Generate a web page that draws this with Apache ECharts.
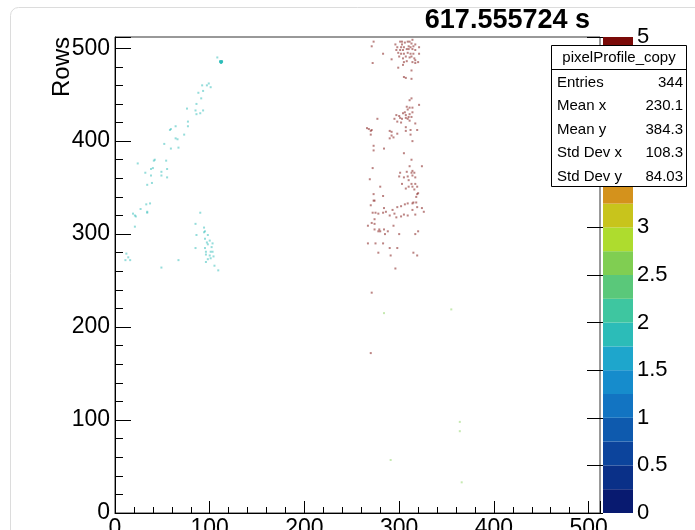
<!DOCTYPE html>
<html>
<head>
<meta charset="utf-8">
<script src="https://cdn.jsdelivr.net/npm/echarts@6/dist/echarts.min.js"></script>
<style>
  html, body { margin: 0; padding: 0; background: #fff; }
  #chart { width: 695px; height: 530px; }
</style>
</head>
<body>
<div id="chart"></div>
<script>
// pixel hits as [column, row]
const cyanPixels = [
  [108,490],[92,460],[97,460],[99,462],[101,458],[93,454],[88,452],[91,446],[86,440],[76,435],
  [85,433],[93,433],[86,429],[90,430],[77,421],[77,416],[64,416],[59,413],[58,412],[73,407],
  [64,403],[66,402],[52,397],[59,392],[67,393],[42,380],[41,379],[54,379],[24,376],[40,371],
  [38,370],[55,370],[32,366],[49,367],[38,363],[49,363],[55,361],[39,355],[34,353],[37,333],
  [33,332],[27,327],[34,324],[34,323],[19,322],[21,320],[22,319],[21,308],[90,323],[85,311],
  [94,307],[95,303],[94,302],[86,299],[98,299],[95,295],[100,293],[97,291],[103,290],[98,289],
  [102,286],[85,285],[95,285],[96,281],[101,281],[103,281],[96,278],[100,277],[104,276],[98,273],
  [101,274],[96,270],[105,266],[109,261],[67,272],[49,264],[12,279],[14,275],[11,272],[16,272]
]
const hotPixels = [[111,485],[112,485],[113,485],[112,486],[112,484],[111,486],[113,486]]
const redPixels = [
  [273,507],[271,502],[296,504],[301,507],[303,507],[303,504],[306,506],[309,507],[311,507],[314,509],
  [313,505],[315,502],[317,504],[321,501],[298,501],[302,501],[305,501],[310,502],[312,501],[297,498],
  [301,498],[304,498],[308,499],[310,499],[314,499],[317,498],[299,495],[302,494],[305,494],[309,495],
  [312,494],[315,494],[321,494],[283,494],[300,491],[304,489],[307,491],[311,490],[313,491],[316,489],
  [317,487],[320,485],[292,488],[305,485],[308,486],[314,485],[317,484],[272,484],[304,482],[313,476],
  [299,479],[305,469],[307,468],[313,467],
  [313,446],[311,444],[321,439],[308,437],[311,436],[314,436],[309,434],[306,431],[304,430],[314,431],
  [311,429],[307,428],[297,428],[300,427],[313,426],[310,426],[301,425],[303,424],[307,425],[295,424],
  [309,424],[311,422],[298,421],[302,420],[317,419],[277,424],[266,414],[268,413],[271,412],[270,411],
  [307,415],[319,412],[312,412],[307,411],[290,411],[292,410],[298,408],[292,406],[294,404],[290,403],
  [270,407],[312,407],[314,400],[273,395],[284,392],[273,390],[305,387],
  [313,380],[311,373],[324,373],[272,371],[314,368],[308,367],[313,366],[316,366],[301,366],[300,362],
  [314,363],[305,361],[309,362],[317,361],[269,359],[310,358],[303,354],[313,354],[317,354],[280,351],
  [310,351],[314,351],[319,351],[307,349],[316,348],[320,344],[319,343],[273,343],[318,340],[283,341],
  [273,336],[274,336],[315,334],[318,334],[314,333],[270,331],[309,333],[306,332],[302,330],[298,329],
  [319,329],[324,328],[326,324],[314,326],[293,326],[284,328],[272,323],[275,323],[278,322],[283,323],
  [286,324],[290,320],[295,322],[302,319],[305,321],[309,320],[317,321],[297,318],[274,316],[271,312],
  [274,311],[267,309],[294,309],[274,305],[279,305],[280,303],[284,305],[285,300],[288,303],[278,303],
  [320,303],[317,300],[300,300],[267,290],[275,290],[283,290],[290,285],[298,285],[278,280],[291,277],
  [315,280],[319,277],[296,263],[271,237],[270,172]
]
const greenPixels = [[284,215],[355,219],[364,98],[364,88],[291,57],[366,33]]

// bin contents per group
const cyanLevel = 1.9
const hotLevel = 1.8
const redLevel = 4.9
const greenLevel = 2.6

// colour scale
const bandEdges = [0,0.25,0.5,0.75,1,1.25,1.5,1.75,2,2.25,2.5,2.75,3,3.25,3.5,3.75,4,4.25,4.5,4.75,5]
const paletteColors = [
  '#081a70','#0a3088','#0c449c','#0e5aae','#1274c2','#168ccc','#1ea6cc','#2cbcb8','#3ec6a0','#5ac87a',
  '#80ce52','#aedc2e','#c8c41c','#d4921c','#d8741a','#dc5416','#d23612','#b8200e','#98120a','#7a0a08'
]

const titleText = '617.555724 s'
const yTitle = 'Rows'
const statsName = 'pixelProfile_copy'
const statLabels = ['Entries', 'Mean x', 'Mean y', 'Std Dev x', 'Std Dev y']
const statValues = ['344', '230.1', '384.3', '108.3', '84.03']

const FONT = '"Liberation Sans", Arial, sans-serif'
const chart = echarts.init(document.getElementById('chart'))

const withLevel = (pts, lvl) => pts.map(p => [p[0], p[1], lvl])
const hundreds = v => (v % 100 === 0 ? String(v) : '')

const pixelSeries = (data, opacity) => ({
  type: 'scatter',
  xAxisIndex: 0,
  yAxisIndex: 0,
  symbol: 'rect',
  symbolSize: 2,
  data,
  itemStyle: { opacity },
  silent: true,
})

// stats box sits on top of everything (colour bar included)
const TOP = 1000
const statsChildren = [
  { type: 'rect', z: TOP, shape: { x: 551.5, y: 45.5, width: 135, height: 141 }, style: { fill: '#fff', stroke: '#000', lineWidth: 1 } },
  { type: 'line', z: TOP + 1, shape: { x1: 551.5, y1: 69.5, x2: 686.5, y2: 69.5 }, style: { stroke: '#000', lineWidth: 1 } },
  { type: 'text', z: TOP + 1, x: 619, y: 58, style: { text: statsName, font: '15px ' + FONT, fill: '#000', align: 'center', verticalAlign: 'middle' } },
]
statLabels.forEach((name, i) => {
  const y = 82.5 + i * 23.6
  statsChildren.push({ type: 'text', z: TOP + 1, x: 557, y, style: { text: name, font: '15px ' + FONT, fill: '#000', align: 'left', verticalAlign: 'middle' } })
  statsChildren.push({ type: 'text', z: TOP + 1, x: 683, y, style: { text: statValues[i], font: '15px ' + FONT, fill: '#000', align: 'right', verticalAlign: 'middle' } })
})

const option = {
  animation: false,
  backgroundColor: '#fff',
  grid: [
    { left: 115, top: 37, width: 485, height: 476, show: true, borderColor: '#333', borderWidth: 1, outerBoundsMode: 'none' },
    { left: 603, top: 37, width: 30, height: 476, outerBoundsMode: 'none' },
  ],
  xAxis: [
    {
      gridIndex: 0, type: 'value', min: 0, max: 512, interval: 100, position: 'bottom',
      axisLine: { lineStyle: { color: '#000' } },
      axisTick: { inside: true, length: 12, lineStyle: { color: '#000' } },
      axisLabel: { margin: 4, fontSize: 23, color: '#000', fontFamily: FONT, formatter: hundreds },
      splitLine: { show: false },
    },
    {
      gridIndex: 0, type: 'value', min: 0, max: 512, interval: 20, position: 'bottom', offset: 0,
      axisLine: { show: false },
      axisTick: { inside: true, length: 6, lineStyle: { color: '#000' } },
      axisLabel: { show: false },
      splitLine: { show: false },
    },
    { gridIndex: 1, type: 'value', min: 0, max: 1, show: false },
  ],
  yAxis: [
    {
      gridIndex: 0, type: 'value', min: 0, max: 512, interval: 100, position: 'left',
      axisLine: { lineStyle: { color: '#000' } },
      axisTick: { inside: true, length: 16, lineStyle: { color: '#000' } },
      axisLabel: { margin: 5, fontSize: 23, color: '#000', fontFamily: FONT, formatter: hundreds },
      splitLine: { show: false },
    },
    {
      gridIndex: 0, type: 'value', min: 0, max: 512, interval: 20, position: 'left', offset: 0,
      axisLine: { show: false },
      axisTick: { inside: true, length: 8, lineStyle: { color: '#000' } },
      axisLabel: { show: false },
      splitLine: { show: false },
    },
    {
      gridIndex: 1, type: 'value', min: 0, max: 5, interval: 0.5, position: 'right',
      axisLine: { show: false },
      axisTick: { inside: true, length: 16, lineStyle: { color: '#000' } },
      axisLabel: { margin: 4, fontSize: 22, color: '#000', fontFamily: FONT },
      splitLine: { show: false },
    },
  ],
  visualMap: {
    type: 'piecewise',
    show: false,
    dimension: 2,
    seriesIndex: [0, 1, 2, 3],
    pieces: paletteColors.map((c, i) => ({ gte: bandEdges[i], lt: bandEdges[i + 1], color: c })),
  },
  series: [
    pixelSeries(withLevel(cyanPixels, cyanLevel), 0.5),
    pixelSeries(withLevel(hotPixels, hotLevel), 0.85),
    pixelSeries(withLevel(redPixels, redLevel), 0.5),
    pixelSeries(withLevel(greenPixels, greenLevel), 0.45),
    {
      type: 'custom',
      xAxisIndex: 2,
      yAxisIndex: 2,
      silent: true,
      data: paletteColors.map((c, i) => [bandEdges[i], bandEdges[i + 1]]),
      encode: { y: [0, 1] },
      renderItem: (params, api) => {
        const lo = api.coord([0, api.value(0)])
        const hi = api.coord([1, api.value(1)])
        return {
          type: 'rect',
          shape: { x: lo[0], y: hi[1], width: hi[0] - lo[0], height: lo[1] - hi[1] },
          style: { fill: paletteColors[params.dataIndex] },
        }
      },
    },
  ],
  graphic: [
    { type: 'rect', silent: true, shape: { x: 10.5, y: 7.5, width: 720, height: 560, r: 8 }, style: { fill: 'none', stroke: '#dcdcdc' } },
    { type: 'text', x: 590, y: 21, style: { text: titleText, font: 'bold 27px ' + FONT, fill: '#000', align: 'right', verticalAlign: 'middle' } },
    { type: 'text', x: 62, y: 67, rotation: Math.PI / 2, style: { text: yTitle, font: '24px ' + FONT, fill: '#000', align: 'center', verticalAlign: 'middle' } },
    { type: 'group', z: TOP, children: statsChildren },
  ],
}

chart.setOption(option)
</script>
</body>
</html>
